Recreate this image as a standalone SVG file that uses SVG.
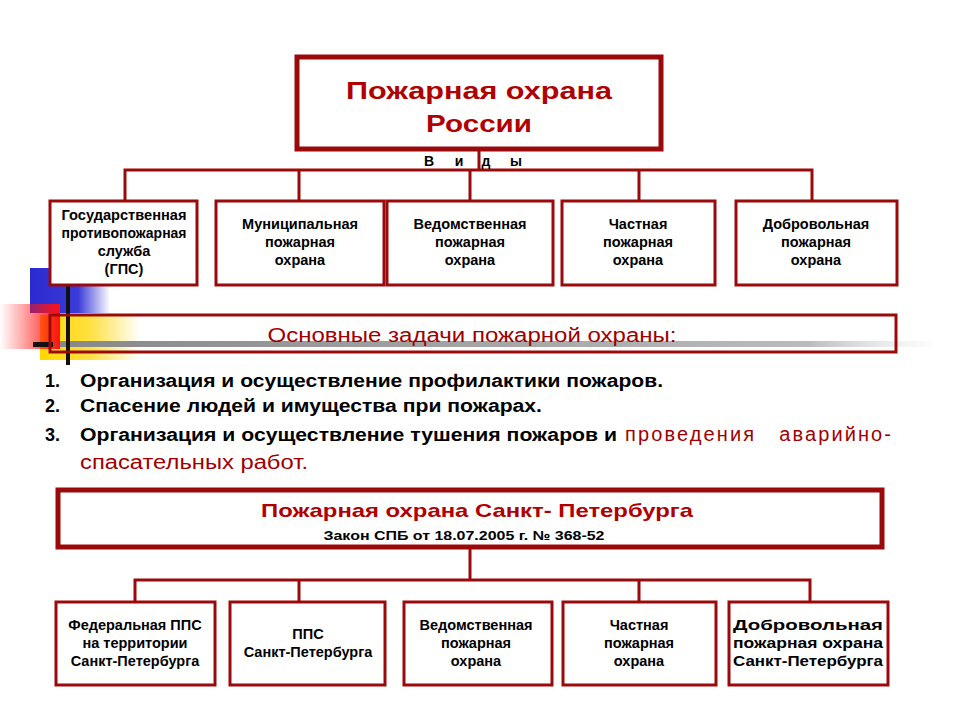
<svg xmlns="http://www.w3.org/2000/svg" width="960" height="720" viewBox="0 0 960 720">
<defs>
<linearGradient id="gb" x1="0" x2="1" y1="0" y2="0"><stop offset="0" stop-color="#2a2ad0"/><stop offset="0.6" stop-color="#3a3ad8"/><stop offset="1" stop-color="#3a3ad8" stop-opacity="0"/></linearGradient>
<linearGradient id="gr" x1="1" x2="0" y1="0" y2="0"><stop offset="0" stop-color="#ff1010"/><stop offset="1" stop-color="#ff2020" stop-opacity="0"/></linearGradient>
<linearGradient id="gy" x1="0" x2="1" y1="0" y2="0"><stop offset="0" stop-color="#ffd800"/><stop offset="0.5" stop-color="#ffe040"/><stop offset="1" stop-color="#ffe040" stop-opacity="0"/></linearGradient>
<linearGradient id="gg" x1="0" x2="1" y1="0" y2="0"><stop offset="0" stop-color="#888"/><stop offset="0.85" stop-color="#bbb"/><stop offset="1" stop-color="#ddd" stop-opacity="0"/></linearGradient>
</defs>
<style>
.b{fill:#fff;stroke:#9b0a0a;stroke-width:3}
.bb{fill:#fff;stroke:#9b0a0a;stroke-width:5}
.c{stroke:#9b0a0a;stroke-width:3;fill:none}
.n{font-family:"Liberation Sans",Arial,sans-serif;font-weight:bold;font-size:14.5px;fill:#000;text-anchor:middle}
.l{font-family:"Liberation Sans",Arial,sans-serif;font-weight:bold;font-size:18px;fill:#000}
.r{font-family:"Liberation Sans",Arial,sans-serif;font-size:20px;fill:#a00000}
.v{font-family:"Liberation Sans",Arial,sans-serif;font-weight:bold;font-size:14px;text-anchor:middle}
</style>
<g id="decor">
<rect x="30" y="268" width="80" height="45" fill="url(#gb)"/>
<rect x="40" y="315" width="100" height="45" fill="url(#gy)"/>
<rect x="0" y="304" width="60" height="45" fill="url(#gr)"/>
<rect x="60" y="341" width="880" height="6" fill="url(#gg)"/>
<rect x="33" y="342" width="20" height="5" fill="#111"/>
<rect x="66" y="285" width="4" height="80" fill="#111"/>
</g>
<g id="connectors">
<path class="c" d="M479 150V170M125 200V170H812V200M299 170V200M470 170V200M639 170V200"/>
<path class="c" d="M470 548V580M135 602V580H810V602M299 580V602M639 580V602"/>
</g>
<g id="top"><rect class="bb" x="297" y="57" width="364" height="92"/>
<text x="479" y="99" text-anchor="middle" font-family="Liberation Sans,Arial,sans-serif" font-weight="bold" font-size="24" fill="#b00000" textLength="266" lengthAdjust="spacingAndGlyphs">Пожарная охрана</text>
<text x="479" y="132" text-anchor="middle" font-family="Liberation Sans,Arial,sans-serif" font-weight="bold" font-size="24" fill="#b00000" textLength="106" lengthAdjust="spacingAndGlyphs">России</text>
<text class="v" x="429" y="166">В</text><text class="v" x="459" y="166">и</text><text class="v" x="486" y="166">д</text><text class="v" x="516" y="166">ы</text></g>
<g id="n1"><rect class="b" x="50" y="201" width="147" height="84"/><text class="n" x="124" y="220" textLength="125" lengthAdjust="spacingAndGlyphs">Государственная</text><text class="n" x="124" y="238" textLength="125" lengthAdjust="spacingAndGlyphs">противопожарная</text><text class="n" x="124" y="256">служба</text><text class="n" x="124" y="274">(ГПС)</text></g>
<g id="n2"><rect class="b" x="216" y="201" width="168" height="84"/><text class="n" x="300" y="229">Муниципальная</text><text class="n" x="300" y="247">пожарная</text><text class="n" x="300" y="265">охрана</text></g>
<g id="n3"><rect class="b" x="387" y="201" width="166" height="84"/><text class="n" x="470" y="229">Ведомственная</text><text class="n" x="470" y="247">пожарная</text><text class="n" x="470" y="265">охрана</text></g>
<g id="n4"><rect class="b" x="562" y="201" width="153" height="84"/><text class="n" x="638" y="229">Частная</text><text class="n" x="638" y="247">пожарная</text><text class="n" x="638" y="265">охрана</text></g>
<g id="n5"><rect class="b" x="736" y="201" width="161" height="84"/><text class="n" x="816" y="229">Добровольная</text><text class="n" x="816" y="247">пожарная</text><text class="n" x="816" y="265">охрана</text></g>
<g id="tasks"><rect class="b" x="50" y="315" width="846" height="37" style="fill:none"/><text class="r" x="472" y="342" text-anchor="middle" textLength="409" lengthAdjust="spacingAndGlyphs">Основные задачи пожарной охраны:</text></g>
<g id="list">
<text class="l" x="45" y="387">1.</text><text class="l" x="80" y="387" textLength="583" lengthAdjust="spacingAndGlyphs">Организация и осуществление профилактики пожаров.</text>
<text class="l" x="45" y="412">2.</text><text class="l" x="80" y="412" textLength="462" lengthAdjust="spacingAndGlyphs">Спасение людей и имущества при пожарах.</text>
<text class="l" x="45" y="441">3.</text><text class="l" x="80" y="441" textLength="537" lengthAdjust="spacingAndGlyphs">Организация и осуществление тушения пожаров и</text>
<text class="r" x="625" y="441" textLength="266" lengthAdjust="spacing" xml:space="preserve">проведения   аварийно-</text>
<text class="r" x="80" y="469" textLength="228" lengthAdjust="spacingAndGlyphs">спасательных работ.</text>
</g>
<g id="spb"><rect class="bb" x="58" y="490" width="824" height="57"/>
<text x="477" y="517" text-anchor="middle" font-family="Liberation Sans,Arial,sans-serif" font-weight="bold" font-size="19" fill="#b00000" textLength="432" lengthAdjust="spacingAndGlyphs">Пожарная охрана Санкт- Петербурга</text>
<text x="464" y="540" text-anchor="middle" font-family="Liberation Sans,Arial,sans-serif" font-weight="bold" font-size="13" textLength="281" lengthAdjust="spacingAndGlyphs">Закон СПБ от 18.07.2005 г. № 368-52</text></g>
<g id="m1"><rect class="b" x="56" y="602" width="159" height="83"/><text class="n" x="135" y="630">Федеральная ППС</text><text class="n" x="135" y="648">на территории</text><text class="n" x="135" y="666">Санкт-Петербурга</text></g>
<g id="m2"><rect class="b" x="230" y="602" width="155" height="83"/><text class="n" x="308" y="639">ППС</text><text class="n" x="308" y="657">Санкт-Петербурга</text></g>
<g id="m3"><rect class="b" x="404" y="602" width="148" height="83"/><text class="n" x="476" y="630">Ведомственная</text><text class="n" x="476" y="648">пожарная</text><text class="n" x="476" y="666">охрана</text></g>
<g id="m4"><rect class="b" x="563" y="602" width="153" height="83"/><text class="n" x="639" y="630">Частная</text><text class="n" x="639" y="648">пожарная</text><text class="n" x="639" y="666">охрана</text></g>
<g id="m5"><rect class="b" x="729" y="602" width="159" height="83"/><text class="n" x="808" y="630" textLength="150" lengthAdjust="spacingAndGlyphs">Добровольная</text><text class="n" x="808" y="648" textLength="150" lengthAdjust="spacingAndGlyphs">пожарная охрана</text><text class="n" x="808" y="666" textLength="150" lengthAdjust="spacingAndGlyphs">Санкт-Петербурга</text></g>
</svg>
